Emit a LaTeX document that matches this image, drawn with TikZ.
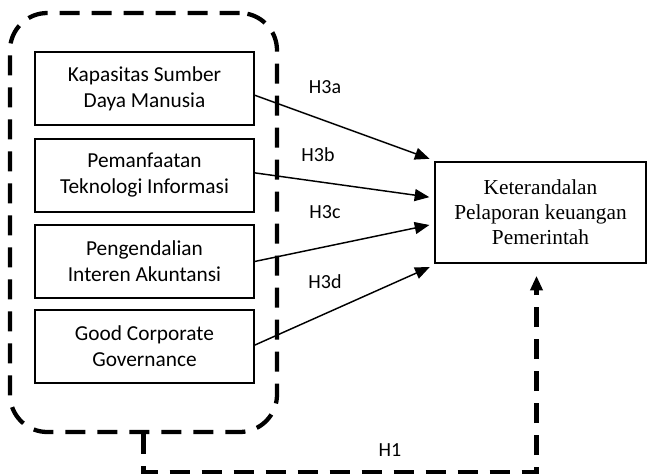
\documentclass[tikz,border=0pt]{standalone}
\usepackage{fontspec}
\setmainfont{Liberation Serif}
\newfontfamily\calibri{Carlito}
\usetikzlibrary{arrows.meta}
\tikzset{
  varbox/.style={draw, line width=1.1pt, minimum width=164pt, minimum height=54.75pt,
    align=center, inner sep=0pt, font=\calibri\fontsize{16}{19.5}\selectfont},
  hlabel/.style={font=\calibri\fontsize{15}{18}\selectfont},
  grpline/.style={line width=3.2pt, dash pattern=on 15pt off 9pt},
  hyparrow/.style={line width=1.1pt, -{Triangle[length=11pt,width=9pt]}}
}
\begin{document}
\begin{tikzpicture}[x=0.75pt,y=-0.75pt]
        \useasboundingbox (0,0) rectangle (648,475);
        % variables
        \node[varbox] (k1) at (144.5,88.5) {Kapasitas Sumber\\Daya Manusia};
        \node[varbox] (k2) at (144.5,175.5) {Pemanfaatan\\Teknologi Informasi};
        \node[varbox] (k3) at (144.5,261.5) {Pengendalian\\Interen Akuntansi};
        \node[varbox] (k4) at (144.5,346.5) {Good Corporate\\Governance};
        \node[draw, grpline, rounded corners=28pt, minimum width=200.25pt,
          minimum height=314.25pt] (grp) at (143.5,222.5) {};
        \node[draw, line width=1.1pt, minimum width=158.25pt, minimum height=75.75pt,
          align=center, font=\fontsize{16}{18.75}\selectfont] (t) at (540.5,212.5)
          {Keterandalan\\Pelaporan keuangan\\Pemerintah};
        % hypotheses
        \draw[hyparrow, shorten >=3.75pt] ([yshift=-5pt]k1.east) -- ([yshift=39pt]t.west);
        \draw[hyparrow, shorten >=3.75pt] ([yshift=2pt]k2.east) -- ([yshift=11pt]t.west);
        \draw[hyparrow, shorten >=3.75pt] (k3.east) -- ([yshift=-8.6pt]t.west);
        \draw[hyparrow, shorten >=3.75pt] ([yshift=1pt]k4.east) -- ([yshift=-39.4pt]t.west);
        \node[hlabel] (h3a) at (325,87) {H3a};
        \node[hlabel] (h3b) at (318,155) {H3b};
        \node[hlabel] (h3c) at (325,212) {H3c};
        \node[hlabel] (h3d) at (325,282) {H3d};
        \draw[grpline, -{Triangle[length=11pt,width=9pt]}] (grp.south) -- ++(0,38)
          -| ([xshift=-3pt,yshift=-9pt]t.south);
        \node[hlabel] (h1) at (390,450) {H1};
\end{tikzpicture}
\end{document}
